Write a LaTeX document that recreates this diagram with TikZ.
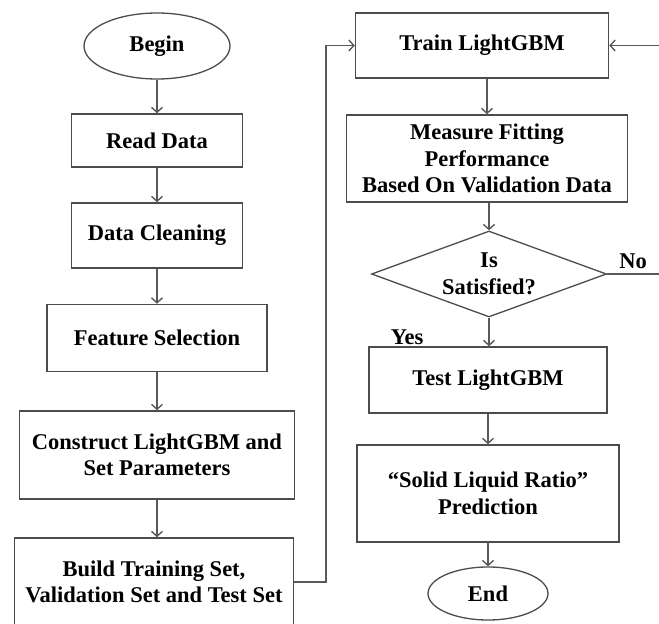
\documentclass[tikz,border=0pt]{standalone}
\usepackage{fontspec}
\setmainfont{Liberation Serif}
\usetikzlibrary{positioning,arrows.meta,shapes}

\begin{document}
\begin{tikzpicture}[
  x=1pt, y=-1pt,
  font=\bfseries\fontsize{22.5}{26.5}\selectfont,
  box/.style={rectangle, draw=black!70, line width=1.5pt, fill=white,
              inner sep=2pt, align=center},
  term/.style={ellipse, draw=black!70, line width=1.3pt, inner sep=0pt},
  dec/.style={diamond, draw=black!70, line width=1.3pt, inner sep=0pt,
              shape aspect=2.73, align=center},
  lbl/.style={inner sep=0pt},
  flow/.style={-{Straight Barb[length=5pt,width=11pt]}, draw=black!65, line width=1.4pt}
]
\path[use as bounding box] (0,0) rectangle (659,624);
\clip (0,0) rectangle (659,624);

% left column
\node[term, minimum width=146pt, minimum height=66pt] (begin) at (157,46) {Begin};
\node[box, minimum width=171pt, minimum height=53pt] (read) at (157,140.5) {Read Data};
\node[box, minimum width=171pt, minimum height=65pt] (clean) at (157,235.5) {Data Cleaning};
\node[box, minimum width=220pt, minimum height=67pt] (feat) at (157,338) {Feature Selection};
\node[box, minimum width=275pt, minimum height=88pt] (cons) at (157,455)
  {Construct LightGBM and\\Set Parameters};
\node[box, minimum width=279pt, minimum height=88pt] (build) at (154,582)
  {Build Training Set,\\Validation Set and Test Set};

% right column
\node[box, minimum width=253pt, minimum height=65pt] (train) at (482,45.5) {Train LightGBM};
\node[box, minimum width=281pt, minimum height=87pt] (meas) at (487,158.5)
  {Measure Fitting\\Performance\\Based On Validation Data};
\node[dec, minimum width=235pt, minimum height=86pt] (sat) at (489,274) {Is\\Satisfied?};
\node[box, minimum width=238pt, minimum height=66pt] (test) at (488,380) {Test LightGBM};
\node[box, minimum width=262pt, minimum height=97pt] (pred) at (488,493.5)
  {``Solid Liquid Ratio''\\Prediction};
\node[term, minimum width=120pt, minimum height=53pt] (end) at (488,593.5) {End};

\node[lbl] (yes) at (407,337) {Yes};
\node[lbl] (no) at (633,261) {No};

\coordinate (jmp) at (326,300);
\coordinate (noend) at (659,274);
\coordinate (loopin) at (659,45.5);

\draw[flow] (begin) -- (read);
\draw[flow] (read) -- (clean);
\draw[flow] (clean) -- (feat);
\draw[flow] (feat) -- (cons);
\draw[flow] (cons) -- (cons |- build.north);
\draw[flow] (build.east) -| (jmp) |- (train.west);

\draw[flow] (train.south -| meas.north) -- (meas);
\draw[flow] (meas.south -| sat.north) -- (sat);
\draw[flow] (sat) -- (sat.south |- test.north);
\draw[flow] (test) -- (pred);
\draw[flow] (pred) -- (end);
\draw[draw=black!65, line width=1.4pt] (sat.east) -- (noend);
\draw[flow] (loopin) -- (train.east);
\end{tikzpicture}
\end{document}
